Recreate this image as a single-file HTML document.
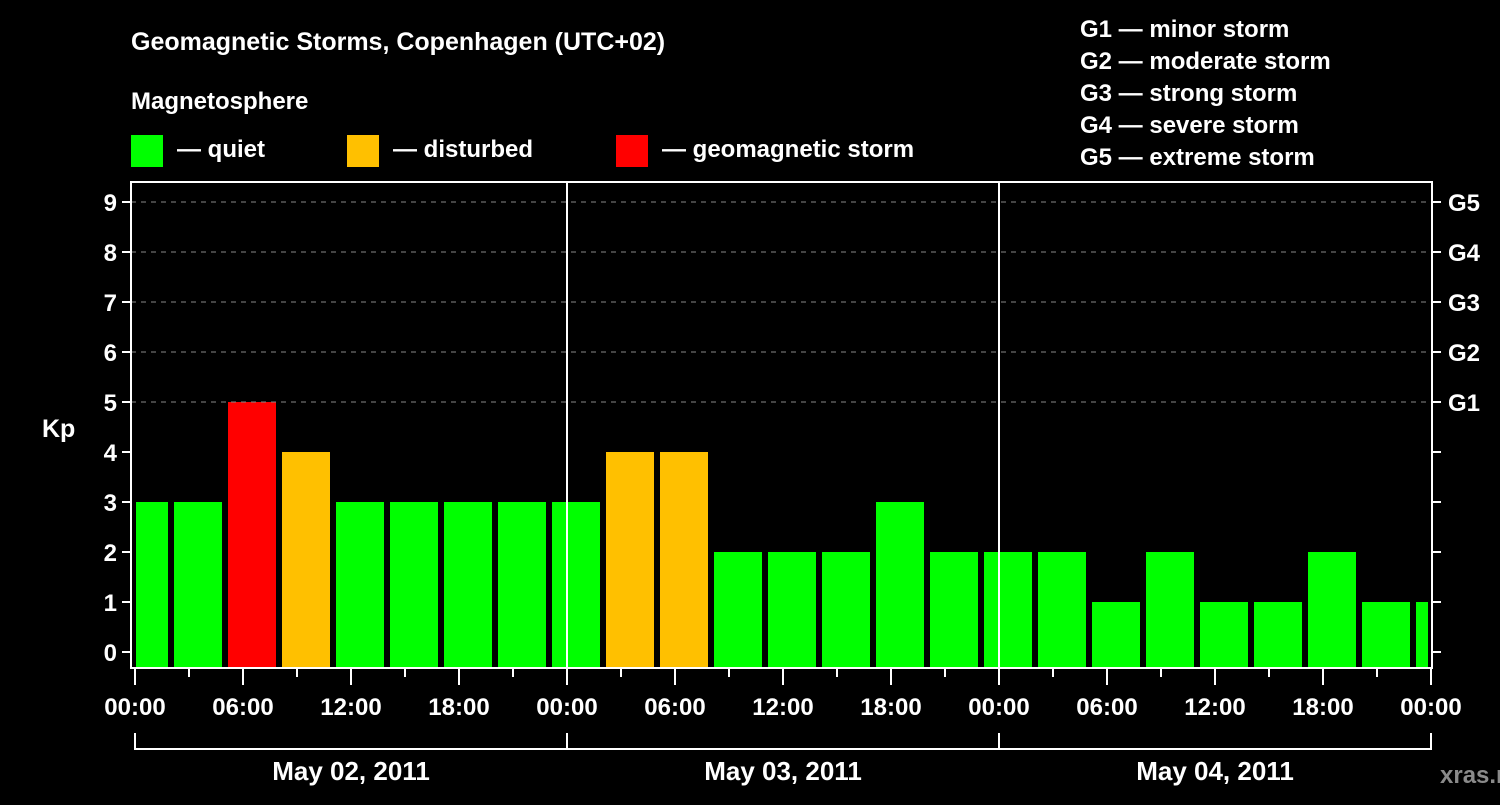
<!DOCTYPE html>
<html><head><meta charset="utf-8"><style>
body{margin:0;background:#000;width:1500px;height:800px;overflow:hidden}
svg text{font-family:"Liberation Sans",Arial,sans-serif;font-weight:bold;fill:#fff}
</style></head><body>
<svg id="c" width="1500" height="800" xmlns="http://www.w3.org/2000/svg">
<text x="131" y="50" font-size="25">Geomagnetic Storms, Copenhagen (UTC+02)</text>
<text x="131" y="109" font-size="24">Magnetosphere</text>
<rect x="131" y="135" width="32" height="32" fill="#00ff00"/>
<text x="177" y="157" font-size="24">— quiet</text>
<rect x="347" y="135" width="32" height="32" fill="#ffc000"/>
<text x="393" y="157" font-size="24">— disturbed</text>
<rect x="616" y="135" width="32" height="32" fill="#ff0000"/>
<text x="662" y="157" font-size="24">— geomagnetic storm</text>
<g font-size="24">
<text x="1080" y="37">G1 — minor storm</text>
<text x="1080" y="69">G2 — moderate storm</text>
<text x="1080" y="101">G3 — strong storm</text>
<text x="1080" y="133">G4 — severe storm</text>
<text x="1080" y="165">G5 — extreme storm</text>
</g>
<text x="42" y="437" font-size="25">Kp</text>
<text x="1440" y="783" font-size="24" fill="#888" style="fill:#8a8a8a">xras.ru</text>
<g id="bars"></g>
<g id="axes"></g>
</svg>
<script>
const kpValues=[3,3,5,4,3,3,3,3,3,4,4,2,2,2,3,2,2,2,1,2,1,1,2,1,1];
const yTicks=[0,1,2,3,4,5,6,7,8,9];
const gLabels=["G1","G2","G3","G4","G5"];
const xTickLabels=["00:00","06:00","12:00","18:00","00:00","06:00","12:00","18:00","00:00","06:00","12:00","18:00","00:00"];
const dayLabels=["May 02, 2011","May 03, 2011","May 04, 2011"];
const NS="http://www.w3.org/2000/svg";
const x=h=>135+18*h;
const y=v=>652-50*v;
const L=131,R=1432,T=182,B=668;
function mk(tag,attrs,parent){const e=document.createElementNS(NS,tag);for(const k in attrs)e.setAttribute(k,attrs[k]);parent.appendChild(e);return e;}
const bars=document.getElementById('bars'),ax=document.getElementById('axes');
// grid
for(let v=5;v<=9;v++){const g=mk('line',{x1:L,x2:R,y1:y(v),y2:y(v),stroke:'#888','stroke-dasharray':'5,5','stroke-width':1},ax);

}
kpValues.forEach((v,k)=>{
  let x0=Math.max(x(3*k)-15,x(0)+1), x1=Math.min(x(3*k)+33,x(72)-3);
  const col=v>=5?'#ff0000':(v>=4?'#ffc000':'#00ff00');
  const r=mk('rect',{x:x0,y:y(v),width:x1-x0,height:B-y(v),fill:col},bars);
  
  
});
// frame
const fr=mk('rect',{x:L,y:T,width:R-L,height:B-T,fill:'none',stroke:'#fff','stroke-width':2},ax);


[1,2].forEach(d=>{const l=mk('line',{x1:x(24*d),x2:x(24*d),y1:T,y2:B,stroke:'#fff','stroke-width':2},ax);

});
yTicks.forEach(v=>{
  mk('line',{x1:L-9,x2:L,y1:y(v),y2:y(v),stroke:'#fff','stroke-width':2},ax);
  mk('line',{x1:R,x2:R+9,y1:y(v),y2:y(v),stroke:'#fff','stroke-width':2},ax);
  const t=mk('text',{x:L-14,y:y(v)+9,'font-size':24,'text-anchor':'end'},ax);t.textContent=v;
  
  
});
gLabels.forEach((g,i)=>{const t=mk('text',{x:1448,y:y(5+i)+9,'font-size':24},ax);t.textContent=g;

});
for(let h=0;h<=72;h+=3){const big=h%6===0;mk('line',{x1:x(h),x2:x(h),y1:B,y2:B+(big?17:9),stroke:'#fff','stroke-width':2},ax);}
xTickLabels.forEach((s,i)=>{const t=mk('text',{x:x(6*i),y:715,'font-size':24,'text-anchor':'middle'},ax);t.textContent=s;

});
mk('path',{d:`M${x(0)},733V749H${x(72)}V733M${x(24)},733V749M${x(48)},733V749`,stroke:'#fff','stroke-width':2,fill:'none'},ax);
dayLabels.forEach((s,i)=>{const t=mk('text',{x:x(24*i+12),y:780,'font-size':26,'text-anchor':'middle'},ax);t.textContent=s;

});
</script>
</body></html>
